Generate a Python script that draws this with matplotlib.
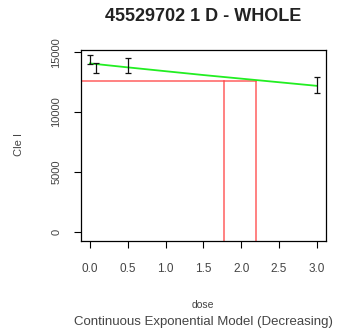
import numpy as np
import matplotlib.pyplot as plt

plt.rcParams['font.family'] = ['Liberation Sans', 'DejaVu Sans']

dose = [0.0, 0.08, 0.5, 3.0]
mean = [14400, 13700, 13850, 12250]
err = [350, 430, 620, 670]

# fitted exponential curve
fit_x = [0.0, 0.5, 1.0, 1.5, 2.0, 2.5, 3.0]
fit_y = [14060, 13730, 13410, 13090, 12790, 12490, 12190]

bmr = 12608
bmdl = 1.77
bmd = 2.2

fig = plt.figure(figsize=(3.37, 3.34), dpi=100)
ax = fig.add_axes([0.240, 0.2784, 0.727, 0.5716])

ax.plot(fit_x, fit_y, color='#22ee22', lw=1.3, zorder=3)
ax.errorbar(dose, mean, yerr=err, fmt='none', ecolor='#111111', elinewidth=0.9,
            capsize=2, capthick=0.9, zorder=4)

ax.plot([-0.12, bmd], [bmr, bmr], color='#ff4444', lw=1.1, alpha=0.85, zorder=2)
ax.plot([bmdl, bmdl], [-750, bmr], color='#ff4444', lw=1.1, alpha=0.85, zorder=2)
ax.plot([bmd, bmd], [-750, bmr], color='#ff4444', lw=1.1, alpha=0.85, zorder=2)

ax.set_xlim(-0.12, 3.12)
ax.set_ylim(-750, 15170)
ax.set_xticks([0.0, 0.5, 1.0, 1.5, 2.0, 2.5, 3.0])
ax.set_xticklabels(['0.0', '0.5', '1.0', '1.5', '2.0', '2.5', '3.0'])
ax.set_yticks([0, 5000, 10000, 15000])
ax.set_yticklabels(['0', '5000', '10000', '15000'], rotation=90, va='center')
ax.tick_params(direction='out', length=5, width=0.8, labelcolor='#444444')
ax.tick_params(axis='x', labelsize=8.5, pad=11)
ax.tick_params(axis='y', labelsize=8, pad=9)
for s in ax.spines.values():
    s.set_linewidth(0.9)

fig.text(0.603, 0.952, '45529702 1 D - WHOLE', ha='center', va='center',
         fontsize=13, fontweight='bold', color='#222222')
fig.text(0.603, 0.087, 'dose', ha='center', va='center',
         fontsize=7.5, color='#444444')
fig.text(0.603, 0.036, 'Continuous Exponential Model (Decreasing)', ha='center',
         va='center', fontsize=9.5, color='#444444')
fig.text(0.056, 0.568, 'Cle I', rotation=90, ha='center', va='center',
         fontsize=8, color='#444444')

fig.savefig('out.png', dpi=100)
